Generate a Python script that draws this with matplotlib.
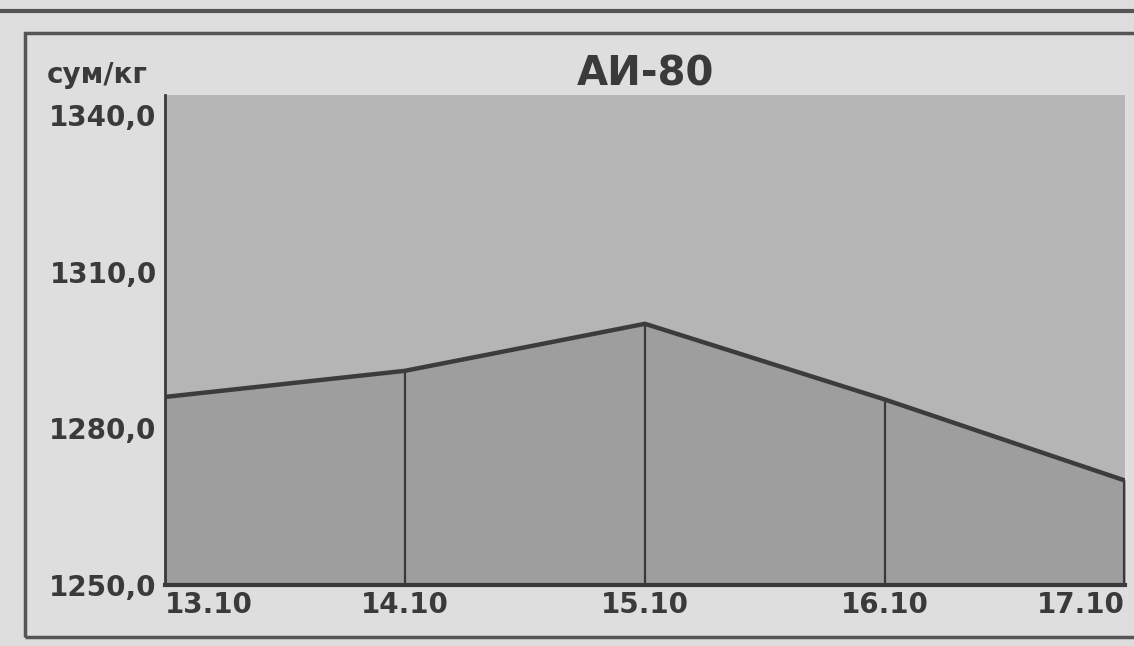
import matplotlib.pyplot as plt
import matplotlib.patches as patches
from matplotlib.lines import Line2D
import numpy as np

# price of AI-80 by day
dates = ['13.10', '14.10', '15.10', '16.10', '17.10']
prices = [1286.0, 1291.0, 1300.0, 1285.5, 1270.0]
yticks = [1250.0, 1280.0, 1310.0, 1340.0]

plt.rcParams['font.family'] = ['DejaVu Sans']

fig = plt.figure(figsize=(11.34, 6.46), dpi=100, facecolor='#dedede')
ax = fig.add_axes([0.1455, 0.0944, 0.8465, 0.7586])
ax.set_facecolor('#b5b5b5')

x = np.arange(len(dates))
ax.fill_between(x, 1250, prices, color='#9e9e9e', zorder=1)
ax.plot(x, prices, color='#3c3c3c', lw=3.2, zorder=3, solid_capstyle='round')
ax.vlines(x[1:-1], 1250, prices[1:-1], color='#3a3a3a', lw=1.6, zorder=2)
ax.vlines(x[-1], 1250, prices[-1], color='#3a3a3a', lw=3, zorder=2)

ax.set_xlim(0, len(dates) - 1)
ax.set_ylim(1250, 1343.8)
ax.set_yticks(yticks)
ax.set_yticklabels([('%.1f' % v).replace('.', ',') for v in yticks],
                   fontsize=20, fontweight='bold', color='#3a3a3a')
ax.set_xticks(x)
ax.set_xticklabels(dates, fontsize=20, fontweight='bold', color='#3a3a3a')
labs = ax.get_xticklabels()
labs[0].set_ha('left')
labs[-1].set_ha('right')
ax.tick_params(length=0, pad=6)
ax.tick_params(axis='x', pad=4)

for s in ['top', 'right']:
    ax.spines[s].set_visible(False)
ax.spines['left'].set_color('#3a3a3a')
ax.spines['left'].set_linewidth(2)
ax.spines['bottom'].set_color('#3a3a3a')
ax.spines['bottom'].set_linewidth(3)

fig.text(0.569, 0.884, 'АИ-80', ha='center', va='center', fontsize=29,
         fontweight='bold', color='#3a3a3a')
fig.text(0.041, 0.884, 'сум/кг', ha='left', va='center', fontsize=20,
         fontweight='bold', color='#3a3a3a')

# newspaper frame
fig.patches.append(patches.Rectangle((0.022, 0.014), 1.1, 0.935, transform=fig.transFigure,
                                     fill=False, edgecolor='#555555', lw=2.5))
fig.lines.append(Line2D([0, 1], [0.983, 0.983], transform=fig.transFigure,
                        color='#555555', lw=3))

fig.savefig('out.png', dpi=100, facecolor=fig.get_facecolor())
